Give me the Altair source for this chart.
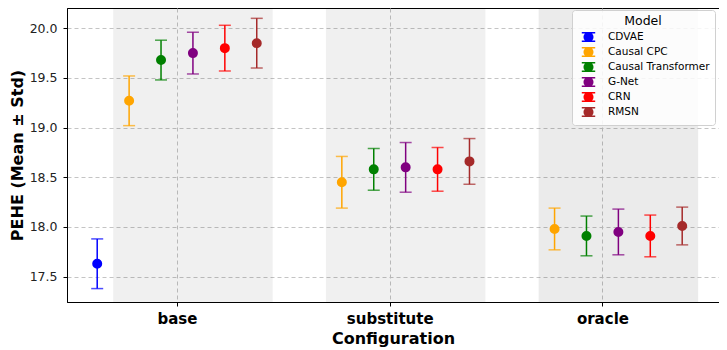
import altair as alt
import pandas as pd

configs = ["base", "substitute", "oracle"]
models = ["CDVAE", "Causal CPC", "Causal Transformer", "G-Net", "CRN", "RMSN"]
colors = ["#0000FF", "#FFA500", "#008000", "#800080", "#FF0000", "#A52A2A"]

base_mean = [17.63, 19.27, 19.68, 19.75, 19.80, 19.85]
base_std = [0.25, 0.25, 0.20, 0.21, 0.23, 0.25]
sub_mean = [None, 18.45, 18.58, 18.60, 18.58, 18.66]
sub_std = [None, 0.26, 0.21, 0.25, 0.22, 0.23]
ora_mean = [None, 17.98, 17.91, 17.95, 17.91, 18.01]
ora_std = [None, 0.21, 0.20, 0.23, 0.21, 0.19]

band_opacity = [0.06, 0.06, 0.08]
dodge = 0.15

rows = []
for ci, (means, stds) in enumerate([(base_mean, base_std), (sub_mean, sub_std), (ora_mean, ora_std)]):
    for mi, (m, s) in enumerate(zip(means, stds)):
        if m is None:
            continue
        rows.append({
            "Configuration": configs[ci],
            "Model": models[mi],
            "x": ci + (mi - 2.5) * dodge,
            "mean": m,
            "lo": m - s,
            "hi": m + s,
        })
df = pd.DataFrame(rows)

bands = pd.DataFrame({
    "start": [i - 0.3 for i in range(len(configs))],
    "end": [i + 0.45 for i in range(len(configs))],
    "op": band_opacity,
})

W, H = 652, 294
xscale = alt.Scale(domain=[-0.517, 2.548], nice=False, zero=False)
yscale = alt.Scale(domain=[17.245, 20.204], nice=False, zero=False)
cscale = alt.Scale(domain=models, range=colors)

label_expr = "datum.value == 0 ? 'base' : datum.value == 1 ? 'substitute' : 'oracle'"

xaxis = alt.Axis(values=[0, 1, 2], labelExpr=label_expr, title="Configuration",
                 labelFontWeight="bold", labelFontSize=15, titleFontSize=16,
                 titleFontWeight="bold", grid=True, gridDash=[4, 3],
                 gridColor="#c4c4c4", tickSize=4, labelPadding=5, titlePadding=4,
                 labelColor="#000", titleColor="#000", domainColor="#000", tickColor="#000")
yaxis = alt.Axis(values=[17.5, 18.0, 18.5, 19.0, 19.5, 20.0], format=".1f",
                 title="PEHE (Mean ± Std)", labelFontSize=12.5, titleFontSize=16,
                 titleFontWeight="bold", grid=True, gridDash=[4, 3],
                 gridColor="#c4c4c4", tickSize=4, labelPadding=6, titlePadding=4,
                 labelColor="#222", titleColor="#000", domainColor="#000", tickColor="#000")

legend = alt.Legend(title="Model", orient="none", legendX=505, legendY=2,
                    titleFontSize=12.5, titleFontWeight="normal", titleAnchor="middle",
                    titleColor="#000", titlePadding=2, labelFontSize=10.5, labelColor="#000",
                    symbolType="M-1,-0.62H1M0,-0.62V0.62M-1,0.62H1M0.64,0A0.64,0.64,0,1,1,-0.64,0A0.64,0.64,0,1,1,0.64,0Z",
                    symbolSize=180, symbolStrokeWidth=1.5, symbolOpacity=1, rowPadding=0,
                    symbolOffset=4, labelOffset=12,
                    strokeColor="#d0d0d0", fillColor="rgba(255,255,255,0.85)",
                    cornerRadius=3, padding=5)

band_layer = alt.Chart(bands).mark_rect(color="#000").encode(
    x=alt.X("start:Q", scale=xscale, axis=xaxis),
    x2="end:Q",
    y=alt.value(0),
    y2=alt.value(H),
    opacity=alt.Opacity("op:Q", scale=None, legend=None),
)

color_enc = alt.Color("Model:N", scale=cscale, legend=legend, sort=models)
stroke_enc = alt.Stroke("Model:N", scale=cscale, legend=legend, sort=models)

rule_layer = alt.Chart(df).mark_rule(strokeWidth=1.5).encode(
    x=alt.X("x:Q", scale=xscale, axis=xaxis),
    y=alt.Y("lo:Q", scale=yscale, axis=yaxis),
    y2="hi:Q",
    color=color_enc,
)
cap_lo = alt.Chart(df).mark_tick(orient="horizontal", size=12, thickness=1.5).encode(
    x=alt.X("x:Q", scale=xscale),
    y=alt.Y("lo:Q", scale=yscale),
    color=color_enc,
)
cap_hi = alt.Chart(df).mark_tick(orient="horizontal", size=12, thickness=1.5).encode(
    x=alt.X("x:Q", scale=xscale),
    y=alt.Y("hi:Q", scale=yscale),
    color=color_enc,
)
point_layer = alt.Chart(df).mark_point(filled=True, size=64, opacity=1).encode(
    x=alt.X("x:Q", scale=xscale),
    y=alt.Y("mean:Q", scale=yscale),
    color=color_enc,
    stroke=stroke_enc,
)

chart = alt.layer(band_layer, rule_layer, cap_lo, cap_hi, point_layer).properties(
    width=W, height=H,
    autosize=alt.AutoSizeParams(type="none"),
    padding={"left": 59, "top": 0, "right": 0, "bottom": 48},
).configure(font="DejaVu Sans").configure_view(stroke="#000", strokeWidth=1)

chart.save("out.html", embed_options={"renderer": "svg", "actions": False})
